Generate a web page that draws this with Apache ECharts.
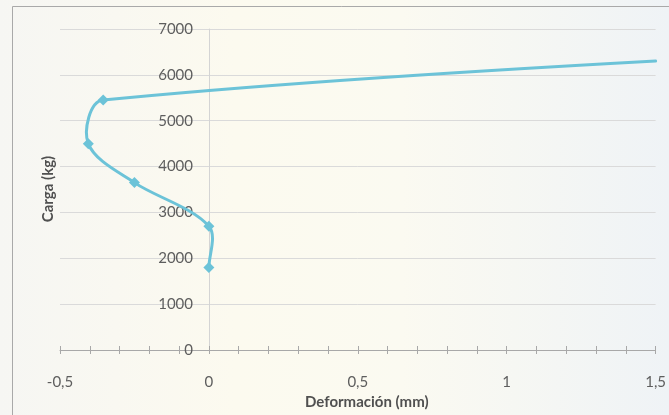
<!DOCTYPE html>
<html>
<head>
<meta charset="utf-8">
<script src="https://cdn.jsdelivr.net/npm/echarts@6/dist/echarts.min.js"></script>
<style>
  html, body { margin: 0; padding: 0; }
  #chart { width: 669px; height: 415px; }
</style>
</head>
<body>
<div id="chart"></div>
<script>
// Load–deformation test readings (deformation in mm, load in kg).
// The last reading lies beyond the plotted deformation range.
const deformacion = [0, 0, -0.25, -0.405, -0.355, 3.5];
const carga = [1800, 2700, 3650, 4500, 5450, 7000];
const xTicks = [-0.5, 0, 0.5, 1, 1.5];
const yTicks = [0, 1000, 2000, 3000, 4000, 5000, 6000, 7000];

const LINE_COLOR = '#6cc3d8';
const GRID = { left: 60, right: 13, top: 29, bottom: 62 };
const CHART_W = 669;

const xMin = xTicks[0], xMax = xTicks[xTicks.length - 1];
const points = deformacion.map((x, i) => [x, carga[i]]);
const fmtComma = v => String(v).replace('.', ',');

// Put the value-axis labels beside the x = 0 line
const gridWidth = CHART_W - GRID.left - GRID.right;
const yAxisShift = gridWidth * (0 - xMin) / (xMax - xMin);

// Smooth curve through the readings: cubic Bezier segments whose
// tangents follow the neighbouring points, scaled by segment length.
const TENSION = 0.3;
function renderCurve(params, api) {
  if (params.dataIndex !== 0) return null;
  const cs = params.coordSys;
  const xRight = cs.x + cs.width;
  const pts = points.map(p => api.coord(p));
  const n = pts.length;
  const tangent = i => {
    const a = pts[Math.max(i - 1, 0)], b = pts[Math.min(i + 1, n - 1)];
    const dx = b[0] - a[0], dy = b[1] - a[1];
    const L = Math.hypot(dx, dy) || 1;
    return [dx / L, dy / L];
  };
  const bez = (s, t) => {
    const u = 1 - t;
    return [
      u*u*u*s[0][0] + 3*u*u*t*s[1][0] + 3*u*t*t*s[2][0] + t*t*t*s[3][0],
      u*u*u*s[0][1] + 3*u*u*t*s[1][1] + 3*u*t*t*s[2][1] + t*t*t*s[3][1]
    ];
  };
  const lerp = (a, b, t) => [a[0] + (b[0] - a[0]) * t, a[1] + (b[1] - a[1]) * t];
  const children = [];
  for (let i = 0; i < n - 1; i++) {
    const p0 = pts[i], p3 = pts[i + 1];
    const L = Math.hypot(p3[0] - p0[0], p3[1] - p0[1]);
    const t0 = tangent(i), t1 = tangent(i + 1);
    const p1 = [p0[0] + t0[0] * TENSION * L, p0[1] + t0[1] * TENSION * L];
    const p2 = [p3[0] - t1[0] * TENSION * L, p3[1] - t1[1] * TENSION * L];
    let seg = [p0, p1, p2, p3];
    if (p0[0] >= xRight) continue;
    if (p3[0] > xRight) {
      // cut the segment where it leaves the plotting area
      let lo = 0, hi = 1;
      for (let k = 0; k < 40; k++) {
        const mid = (lo + hi) / 2;
        if (bez(seg, mid)[0] > xRight) hi = mid; else lo = mid;
      }
      const t = lo;
      const a = lerp(seg[0], seg[1], t), b = lerp(seg[1], seg[2], t), c = lerp(seg[2], seg[3], t);
      const d = lerp(a, b, t), e = lerp(b, c, t), f = lerp(d, e, t);
      seg = [seg[0], a, d, f];
    }
    children.push({
      type: 'bezierCurve',
      shape: {
        x1: seg[0][0], y1: seg[0][1],
        cpx1: seg[1][0], cpy1: seg[1][1],
        cpx2: seg[2][0], cpy2: seg[2][1],
        x2: seg[3][0], y2: seg[3][1]
      },
      style: { stroke: LINE_COLOR, lineWidth: 3, fill: null, lineCap: 'round' }
    });
  }
  return { type: 'group', children };
}

const chart = echarts.init(document.getElementById('chart'), null, { renderer: 'canvas' });

const baseX = {
  type: 'value',
  min: xMin,
  max: xMax,
  interval: 0.5,
  position: 'bottom',
  splitLine: { show: false }
};

chart.setOption({
  animation: false,
  backgroundColor: {
    type: 'linear', x: 0, y: 0, x2: 1, y2: 0,
    colorStops: [
      { offset: 0, color: '#f6f6f3' },
      { offset: 0.35, color: '#fcfaef' },
      { offset: 0.6, color: '#fbfaf1' },
      { offset: 1, color: '#eff3f6' }
    ]
  },
  textStyle: { fontFamily: 'Lato, "Open Sans", sans-serif' },
  grid: Object.assign({ containLabel: false }, GRID),
  xAxis: [
    Object.assign({}, baseX, {
      axisLine: { show: true, onZero: false, lineStyle: { color: '#a8a8a8', width: 1 } },
      axisTick: { show: true, length: 4, lineStyle: { color: '#a8a8a8' } },
      minorTick: { show: true, splitNumber: 5, length: 4, lineStyle: { color: '#a8a8a8' } },
      axisLabel: {
        margin: 25, color: '#5e5e5e', fontSize: 15,
        formatter: v => fmtComma(v)
      },
      name: 'Deformación (mm)',
      nameLocation: 'middle',
      nameGap: 45,
      nameTextStyle: { color: '#505050', fontSize: 15, fontWeight: 'bold', padding: [0, 0, 0, 18] }
    }),
    Object.assign({}, baseX, {
      axisLine: { show: false, onZero: false },
      axisTick: { show: true, inside: true, length: 4, lineStyle: { color: '#a8a8a8' } },
      minorTick: { show: true, splitNumber: 5, length: 4, lineStyle: { color: '#a8a8a8' } },
      axisLabel: { show: false }
    })
  ],
  yAxis: {
    type: 'value',
    min: yTicks[0],
    max: yTicks[yTicks.length - 1],
    interval: 1000,
    position: 'left',
    offset: -yAxisShift,
    axisLine: { show: true, onZero: false, lineStyle: { color: '#d4d4d4', width: 1 } },
    axisTick: { show: false },
    axisLabel: { margin: 16, color: '#5e5e5e', fontSize: 15, formatter: v => String(v) },
    splitLine: { show: true, lineStyle: { color: '#dadada', width: 1 } }
  },
  graphic: [
    {
      type: 'rect',
      shape: { x: 12.5, y: 6.5, width: 700, height: 500 },
      style: { fill: 'none', stroke: '#a9a9a9', lineWidth: 1 },
      silent: true
    },
    {
      type: 'text',
      x: 48, y: 189,
      rotation: Math.PI / 2,
      style: {
        text: 'Carga (kg)',
        fill: '#505050',
        font: 'bold 15px Lato, "Open Sans", sans-serif',
        textAlign: 'center',
        textVerticalAlign: 'middle'
      }
    }
  ],
  series: [
    {
      type: 'custom',
      renderItem: renderCurve,
      data: [points[0]],
      encode: { x: 0, y: 1 },
      clip: false,
      z: 2
    },
    {
      type: 'scatter',
      data: points,
      clip: true,
      symbol: 'diamond',
      symbolSize: 11,
      itemStyle: { color: LINE_COLOR, opacity: 1 },
      z: 3
    }
  ]
});
</script>
</body>
</html>
